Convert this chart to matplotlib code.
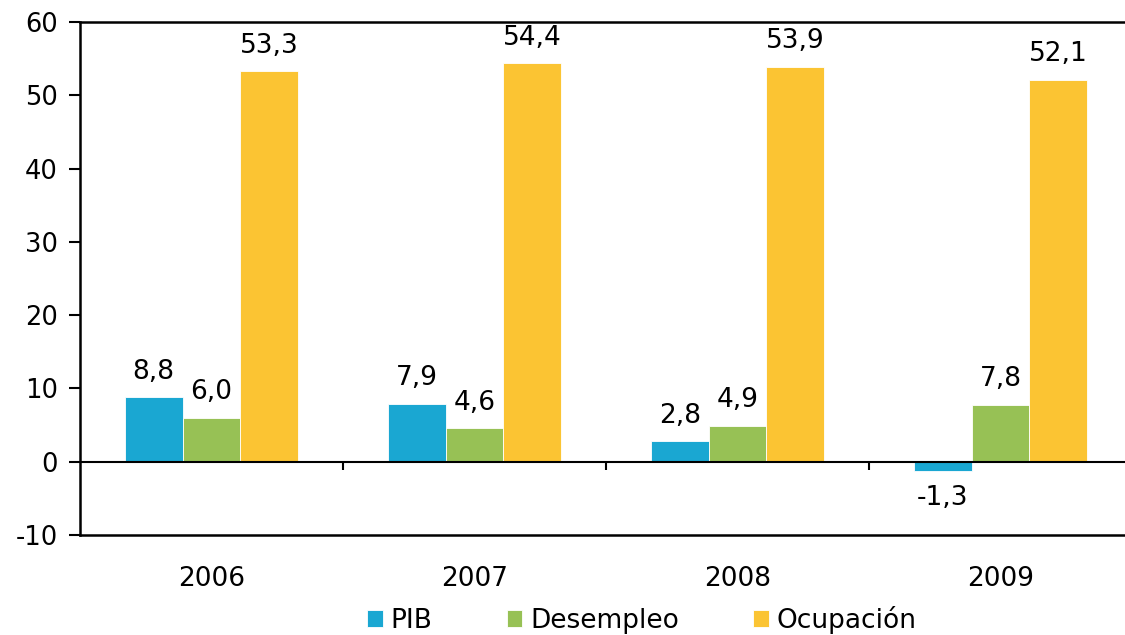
import numpy as np
import matplotlib

matplotlib.use("Agg")

import matplotlib.pyplot as plt

plt.rcParams["font.family"] = ["DejaVu Sans"]
plt.rcParams["axes.unicode_minus"] = False

years = ["2006", "2007", "2008", "2009"]
pib = [8.8, 7.9, 2.8, -1.3]
desempleo = [6.0, 4.6, 4.9, 7.8]
ocupacion = [53.3, 54.4, 53.9, 52.1]

series = [
    ("PIB", pib, "#1aa7d2"),
    ("Desempleo", desempleo, "#97c155"),
    ("Ocupación", ocupacion, "#fbc433"),
]

fig = plt.figure(figsize=(11.25, 6.35), dpi=100)
ax = fig.add_axes([80 / 1125, 1 - 535 / 635, 1052 / 1125, 513 / 635])

x = np.arange(len(years))
width = 0.22

for k, (name, vals, color) in enumerate(series):
    pos = x + (k - 1) * width
    bars = ax.bar(pos, vals, width, color=color, label=name,
                  edgecolor="white", linewidth=0.6)
    for b, v in zip(bars, vals):
        txt = f"{v:.1f}".replace(".", ",")
        if v >= 0:
            ax.annotate(txt, (b.get_x() + b.get_width() / 2, v),
                        xytext=(0, 9), textcoords="offset points",
                        ha="center", va="bottom", fontsize=19)
        else:
            ax.annotate(txt, (b.get_x() + b.get_width() / 2, v),
                        xytext=(0, -10), textcoords="offset points",
                        ha="center", va="top", fontsize=19)

ax.set_xlim(-0.5, len(years) - 0.5)
ax.set_ylim(-10, 60)
ax.set_yticks(range(-10, 61, 10))
ax.tick_params(axis="y", labelsize=18.5, length=8, width=1.5, direction="out", pad=8)

ax.set_xticks(x)
ax.set_xticklabels(years, fontsize=19)
ax.tick_params(axis="x", length=0, pad=22)

ax.axhline(0, color="black", linewidth=1.5)
ax.vlines(x[:-1] + 0.5, -1.1, 0, color="black", linewidth=1.5)

for s in ["left", "top", "bottom"]:
    ax.spines[s].set_linewidth(1.8)
ax.spines["right"].set_visible(False)

ax.legend(loc="center", bbox_to_anchor=(562 / 1052, -0.166),
          ncol=3, frameon=False, fontsize=19, handlelength=0.6,
          handleheight=0.6, handletextpad=0.3, columnspacing=2.8,
          borderpad=0)

plt.savefig("out.png", dpi=100)
plt.close()
